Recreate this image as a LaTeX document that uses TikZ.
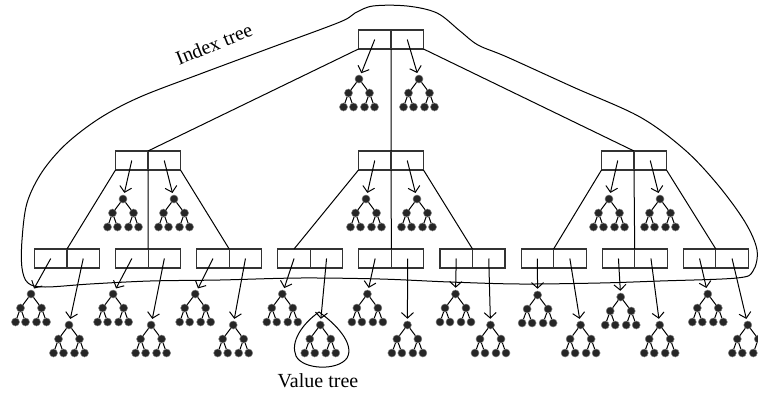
\documentclass[tikz,border=0pt]{standalone}
\usepackage{fontspec}
\setmainfont{Liberation Serif}
\usetikzlibrary{arrows.meta}
\tikzset{
  slot/.style={draw=black!80,line width=1.1pt,minimum width=32.5pt,minimum height=19pt,inner sep=0pt,outer sep=0pt},
  dot/.style={circle,fill=black!85,draw=black!50,line width=0.5pt,minimum size=8pt,inner sep=0pt},
  link/.style={line width=1pt},
  ptr/.style={line width=1pt,-{Straight Barb[length=5.5pt,width=12pt]},shorten >=2pt},
  vtree/.pic={
    \node[dot] (-r) at (0,0) {};
    \node[dot] (-a) at (-10.5,14) {};
    \node[dot] (-b) at (10.5,14) {};
    \node[dot] (-a1) at (-15.5,28) {};
    \node[dot] (-a2) at (-5.5,28) {};
    \node[dot] (-b1) at (5.5,28) {};
    \node[dot] (-b2) at (15.5,28) {};
    \draw[link] (-r)--(-a) (-r)--(-b) (-a)--(-a1) (-a)--(-a2) (-b)--(-b1) (-b)--(-b2);
  }
}
\begin{document}
\begin{tikzpicture}[x=1pt,y=-1pt,font=\fontsize{20}{22}\selectfont]
\useasboundingbox (0,0) rectangle (758,394);
% index tree outline
\draw[link] plot[smooth cycle,tension=0.55] coordinates {
  (340,22) (355,13) (373,6) (407,6) (437,13) (460,31) (478,45) (507,57) (573,87) (640,117)
  (685,150) (718,185) (745,222) (757,250) (753,271) (737,278) (660,281) (600,283) (520,284)
  (450,282) (380,279) (300,278) (220,280) (150,281) (90,284) (45,287) (28,283) (22,268)
  (22,240) (27,203) (42,172) (66,144) (100,118) (140,97) (200,74) (270,48)};
\node[rotate=22] (ilabel) at (214,44) {Index tree};
% boxes
\node[slot,anchor=north east] (rl) at (391,30) {};
\node[slot,anchor=north west] (rr) at (391,30) {};
\foreach \j/\cx in {1/148,2/391,3/634}{
  \node[slot,anchor=north east] (m\j l) at (\cx,151) {};
  \node[slot,anchor=north west] (m\j r) at (\cx,151) {};
}
\foreach \i in {1,...,9}{
  \pgfmathsetmacro\cx{67+81.1*(\i-1)}
  \node[slot,anchor=north east] (b\i l) at (\cx,249) {};
  \node[slot,anchor=north west] (b\i r) at (\cx,249) {};
}
% tree links
\draw[link] (rl.south west) -- (m1l.north east) (rl.south east) -- (m2l.north east) (rr.south east) -- (m3l.north east);
\draw[link] (m1l.south west) -- (b1l.north east) (m1l.south east) -- (b2l.north east) (m1r.south east) -- (b3l.north east);
\draw[link] (m2l.south west) -- (b4l.north) (m2l.south east) -- (b5l.north east) (m2r.south east) -- (b6l.north east);
\draw[link] (m3l.south west) -- (b7l.north east) (m3l.south east) -- (b8l.north east) (m3r.south east) -- (b9l.north east);
% value trees
\pic (t0a) at (359,79) {vtree};
\pic (t0b) at (419,79) {vtree};
\draw[ptr] (rl.center) -- (t0a-r);
\draw[ptr] (rr.center) -- (t0b-r);
\foreach \j/\cx in {1/148,2/391,3/634}{
  \pic (u\j a) at ({\cx-25},199) {vtree};
  \pic (u\j b) at ({\cx+26},199) {vtree};
  \draw[ptr] (m\j l.center) -- (u\j a-r);
  \draw[ptr] (m\j r.center) -- (u\j b-r);
}
\foreach \i/\dl/\yl/\dr in {1/-36/294/2,2/-35/294/3,3/-34/294/4,4/-28/294/10,5/-24/294/16,6/-17/294/18,7/-16/295/27,8/-14/297/25,9/-8/294/32}{
  \pgfmathsetmacro\cx{67+81.1*(\i-1)}
  \pic (t\i a) at ({\cx+\dl},\yl) {vtree};
  \pic (t\i b) at ({\cx+\dr},325) {vtree};
  \draw[ptr] (b\i l.center) -- (t\i a-r);
  \draw[ptr] (b\i r.center) -- (t\i b-r);
}
% value tree mark
\draw[link] (319,312) .. controls (302,324) and (290,342) .. (296,356)
  .. controls (303,370) and (338,371) .. (347,358)
  .. controls (355,344) and (336,324) .. cycle;
\node (vlabel) at (318,381) {Value tree};
\end{tikzpicture}
\end{document}
